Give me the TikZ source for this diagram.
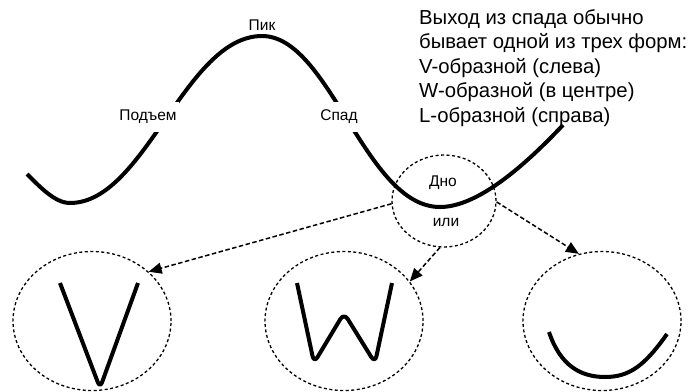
\documentclass[tikz,border=0pt]{standalone}
\usepackage{fontspec}
\setmainfont{Liberation Sans}
\usetikzlibrary{arrows.meta,shapes.geometric}
\tikzset{
  kurve/.style={black,line width=4pt,line join=round},
  kreis/.style={ellipse,draw,dash pattern=on 3pt off 2.5pt,line width=1.3pt,inner sep=0pt},
  form/.style={kreis,minimum width=158pt,minimum height=139pt},
  pfeil/.style={-{Triangle[length=13pt,width=11pt]},dash pattern=on 4.5pt off 2.5pt,line width=1.5pt},
  marke/.style={font=\fontsize{15.5}{18}\selectfont,inner sep=1pt},
  luecke/.style={marke,fill=white,inner xsep=2pt,inner ysep=8pt},
}
\begin{document}
\begin{tikzpicture}[x=1pt,y=-1pt]
  \useasboundingbox (0,0) rectangle (700,391);
  % Welle
  \draw[kurve] (27,174) .. controls (40,187) and (55,203) .. (70,203)
    .. controls (145,203) and (185,36) .. (262,36)
    .. controls (330,36) and (365,207) .. (440,207)
    .. controls (480,207) and (530,160) .. (563,125);
  \node[marke] (pik) at (262,25) {Пик};
  \node[luecke] (podjem) at (148,117) {Подъем};
  \node[luecke] (spad) at (339,117) {Спад};
  % Dno
  \node[kreis,minimum width=104pt,minimum height=92pt] (dno) at (444,201) {};
  \node[marke] (dnotext) at (443,183) {Дно};
  \node[marke] (ili) at (446,222) {или};
  % drei Formen
  \node[form] (vform) at (92,321) {};
  \node[form] (wform) at (344,321) {};
  \node[form] (lform) at (602,321) {};
  \draw[pfeil] (dno.183) -- (vform.41);
  \draw[pfeil] (dno.265) -- (wform.31);
  \draw[pfeil] (dno.359) -- (lform.109);
  \draw[kurve,rounded corners=6pt] (60,283) -- (100,388) -- (138,283);
  \draw[kurve,rounded corners=7pt] (297,283) -- (314,363) -- (344,313) -- (375,363) -- (392,283);
  \draw[kurve] (549,332) .. controls (560,365) and (580,377) .. (605,377)
    .. controls (630,377) and (645,365) .. (667,334);
  % Text
  \node[font=\fontsize{20.3}{24.5}\selectfont,align=left,anchor=north west,inner sep=0pt] (info) at (419,9)
    {Выход из спада обычно\\бывает одной из трех форм:\\V-образной (слева)\\W-образной (в центре)\\L-образной (справа)};
\end{tikzpicture}
\end{document}
